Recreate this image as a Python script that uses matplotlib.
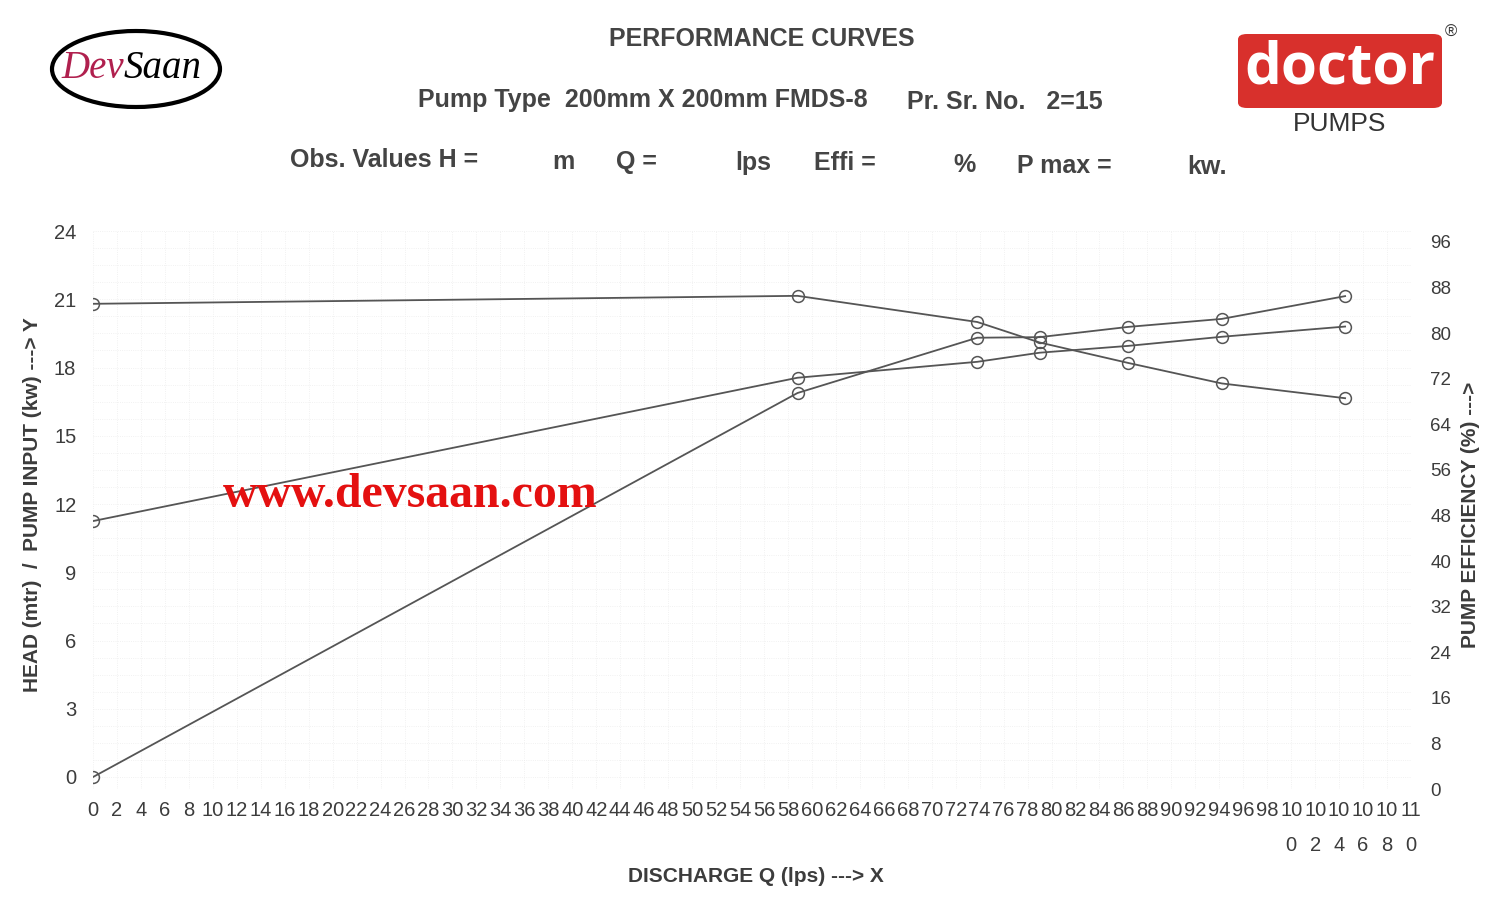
import numpy as np
import matplotlib
matplotlib.use("Agg")
import matplotlib.pyplot as plt
from matplotlib.patches import FancyBboxPatch, Ellipse

# values
discharge = [0, 58.8, 73.8, 79.0, 86.4, 94.2, 104.5]          # lps
head = [20.8, 21.15, 20.0, 19.1, 18.2, 17.3, 16.65]            # m
pump_input = [11.25, 17.55, 18.25, 18.65, 18.95, 19.35, 19.8]  # kw
efficiency = [2.1, 69.5, 79.2, 79.3, 81.1, 82.5, 86.5]         # %

x_ticks = list(range(0, 112, 2))
x_labels = [str(v) if v < 100 else f"{str(v)[:2]}\n{str(v)[2]}" for v in x_ticks]
left_ticks = [0, 3, 6, 9, 12, 15, 18, 21, 24]
right_ticks = [0, 8, 16, 24, 32, 40, 48, 56, 64, 72, 80, 88, 96]

ink = "#3c3c3c"
line_col = "#555555"
plt.rcParams['font.family'] = ['Liberation Sans', 'DejaVu Sans']

fig = plt.figure(figsize=(15, 9.08), dpi=100)
ax = fig.add_axes([93 / 1500, 1 - 789 / 908, 1318 / 1500, 558 / 908])
ax2 = ax.twinx()

ax.set_xlim(0, 110)
ax.set_ylim(-12 / 22.75, 24)
ax2.set_ylim(0, 96 + 11 / 5.698)

# faint graph-paper background
for xv in np.arange(0, 111, 2):
    ax.axvline(xv, color="#ededed", lw=0.6, ls=":", zorder=0)
for yv in np.arange(0, 24.1, 0.75):
    ax.axhline(yv, color="#ededed", lw=0.6, ls=":", zorder=0)

mk = dict(marker="o", markersize=8.5, markerfacecolor="none",
          markeredgecolor=line_col, markeredgewidth=1.1, color=line_col, lw=1.3)
ax.plot(discharge, head, **mk)
ax.plot(discharge, pump_input, **mk)
ax2.plot(discharge, efficiency, **mk)

ax.set_xticks(x_ticks)
ax.set_xticklabels(x_labels, fontsize=14.5, color=ink, linespacing=2.05)
ax.set_yticks(left_ticks)
ax.set_yticklabels([str(v) for v in left_ticks], fontsize=14.5, color=ink)
ax2.set_yticks(right_ticks)
ax2.set_yticklabels([str(v) for v in right_ticks], fontsize=13.5, color=ink)
ax.tick_params(axis="x", length=0, pad=9)
ax.tick_params(axis="y", length=0, pad=12)
ax2.tick_params(axis="y", length=0, pad=14)
for a in (ax, ax2):
    for s in a.spines.values():
        s.set_visible(False)

fig.text(33 / 1500, 1 - 505 / 908, "HEAD (mtr)  /  PUMP INPUT (kw) ---> Y", rotation=90,
         ha="center", va="center", fontsize=15, color=ink, fontweight="bold")
fig.text(1471 / 1500, 1 - 515 / 908, "PUMP EFFICIENCY (%) --->", rotation=90,
         ha="center", va="center", fontsize=15, color=ink, fontweight="bold")
fig.text(756 / 1500, 1 - 876 / 908, "DISCHARGE Q (lps) ---> X", ha="center", va="center",
         fontsize=15, color=ink, fontweight="bold")

# header texts
hdr = dict(fontsize=18, color="#444444", fontweight="bold", va="center")
fig.text(762 / 1500, 1 - 39 / 908, "PERFORMANCE CURVES", ha="center", **hdr)
fig.text(418 / 1500, 1 - 100 / 908, "Pump Type  200mm X 200mm FMDS-8", ha="left", **hdr)
fig.text(907 / 1500, 1 - 102 / 908, "Pr. Sr. No.   2=15", ha="left", **hdr)
for txt, px, py in [("Obs. Values H =", 290, 160), ("m", 552, 162), ("Q =", 616, 162),
                    ("lps", 735, 163), ("Effi =", 814, 163), ("%", 953, 165),
                    ("P max =", 1017, 166), ("kw.", 1187, 167)]:
    fig.text(px / 1500, 1 - py / 908, txt, ha="left", **hdr)

# DevSaan logo
fig.patches.append(Ellipse((136 / 1500, 1 - 69 / 908), 168 / 1500, 76 / 908,
                           transform=fig.transFigure, fill=False, lw=3, ec="black"))
fig.text(124 / 1500, 1 - 68 / 908, "Dev", ha="right", va="center", fontsize=28,
         style="italic", family=["Liberation Serif"], color="#b0204e")
fig.text(124 / 1500, 1 - 68 / 908, "Saan", ha="left", va="center", fontsize=28,
         style="italic", family=["Liberation Serif"], color="black")

# doctor pumps logo
fig.patches.append(FancyBboxPatch((1238 / 1500, 1 - 108 / 908), 204 / 1500, 74 / 908,
                                  boxstyle="round,pad=0,rounding_size=0.006",
                                  transform=fig.transFigure, fc="#d8302c", ec="none"))
fig.text(1340 / 1500, 1 - 68 / 908, "doctor", ha="center", va="center", fontsize=42,
         color="white", fontweight="bold", family=["Open Sans", "DejaVu Sans"])
fig.text(1340 / 1500, 1 - 124 / 908, "PUMPS", ha="center", va="center", fontsize=19,
         color="#333333")
fig.text(1451 / 1500, 1 - 32 / 908, "\u00ae", ha="center", va="center", fontsize=12,
         color="#333333")

# watermark
fig.text(223 / 1500, 1 - 495 / 908, "www.devsaan.com", ha="left", va="center",
         fontsize=34.5, color="#e41010", fontweight="bold", family=["Liberation Serif"])

fig.savefig("out.png", dpi=100, facecolor="white")
